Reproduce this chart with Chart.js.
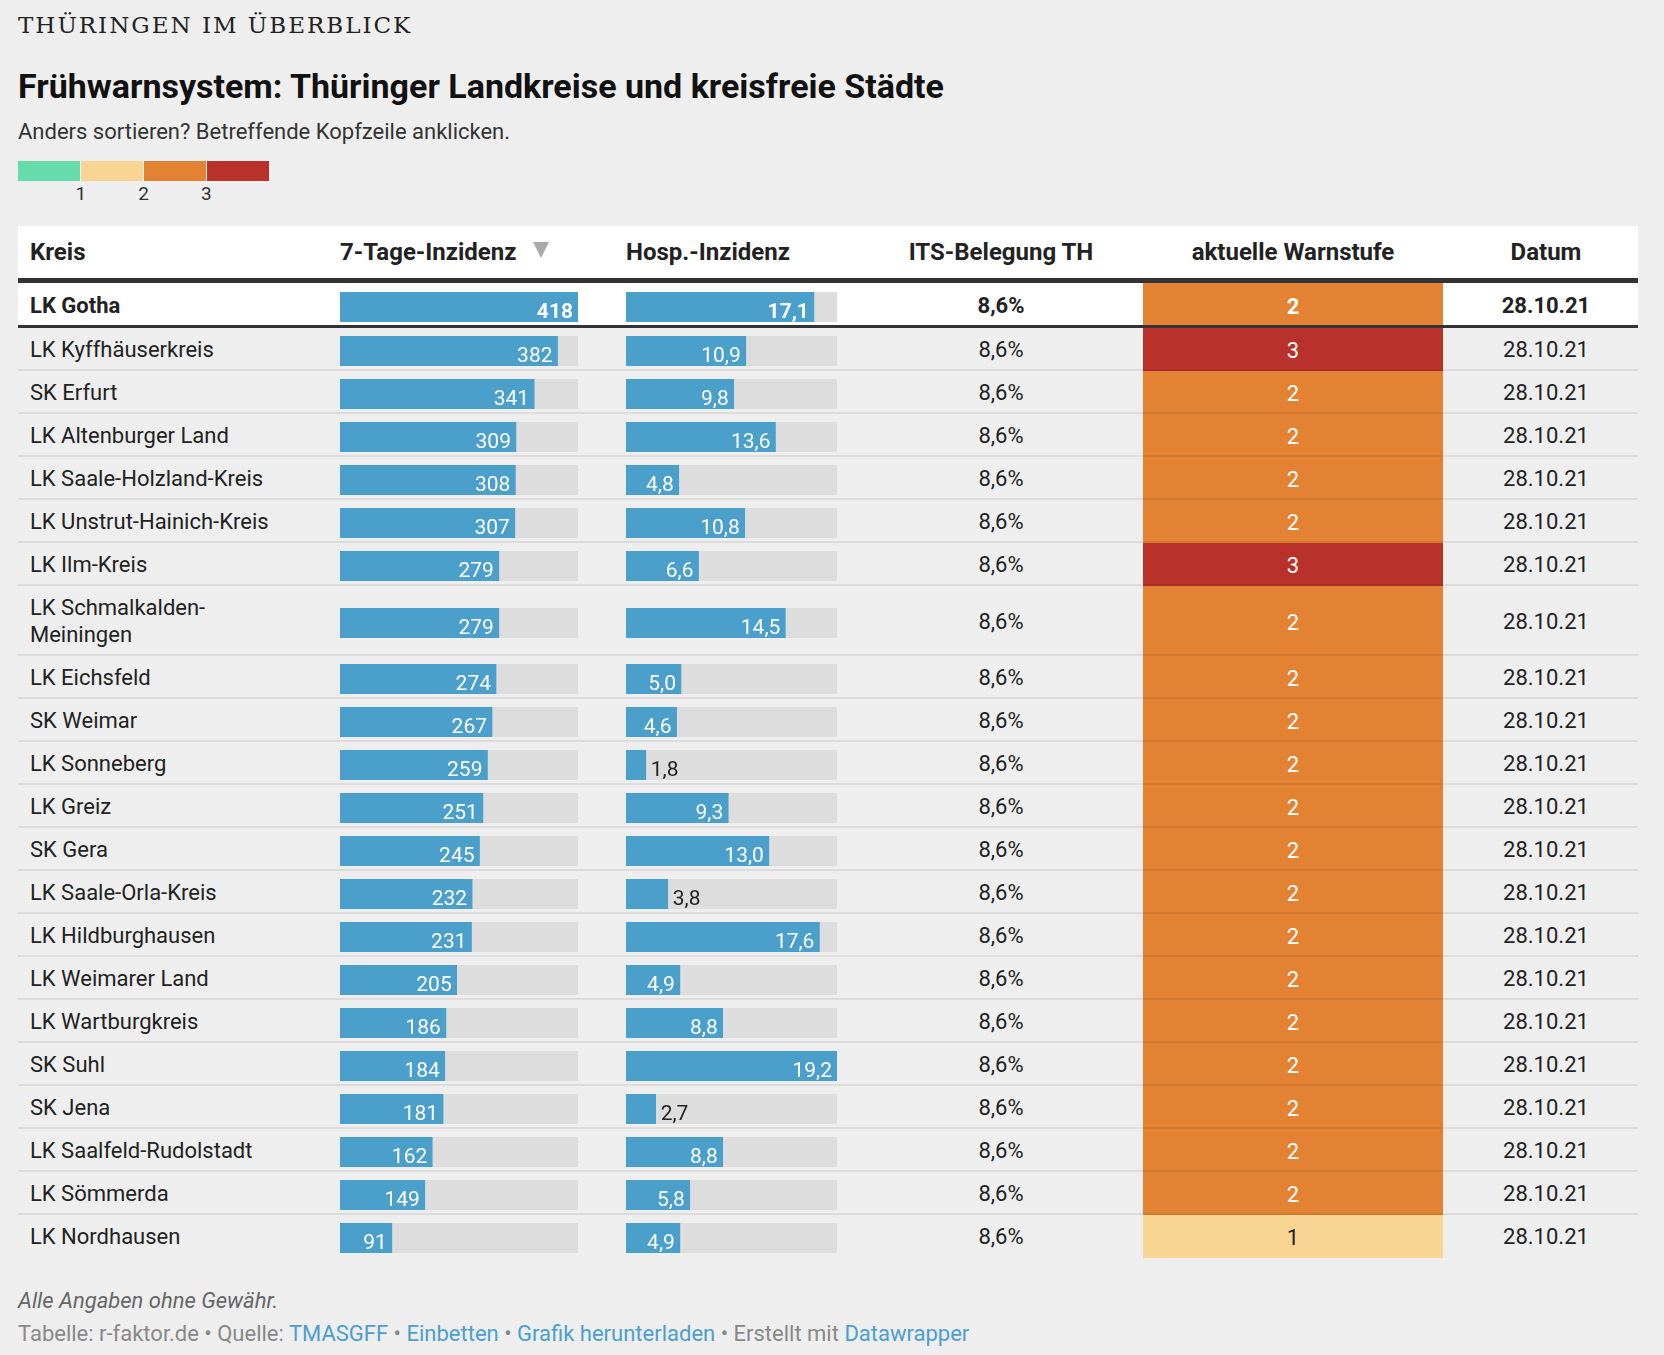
<!DOCTYPE html>
<html lang="de">
<head>
<meta charset="utf-8">
<title>Frühwarnsystem: Thüringer Landkreise und kreisfreie Städte</title>
<script src="https://cdn.jsdelivr.net/npm/chart.js@4.4.0/dist/chart.umd.min.js"></script>
<style>
  html, body { margin: 0; padding: 0; }
  body {
    width: 1664px; height: 1355px; overflow: hidden; position: relative;
    background: #eeeeee; font-family: Roboto, sans-serif; color: #222;
  }
  .abs { position: absolute; line-height: 1; white-space: nowrap; }
  #kicker { left: 18px; top: 14px; font-family: "DejaVu Serif", serif; font-size: 23px; letter-spacing: 2px; color: #222; }
  #title { left: 18px; top: 69px; font-size: 34px; font-weight: 700; color: #111; }
  #subtitle { left: 18px; top: 121px; font-size: 22px; color: #333; }
  #legend { position: absolute; left: 18px; top: 161px; width: 251px; height: 20px; display: flex; }
  #legend div { flex: 1; height: 20px; }
  #legend div + div { border-left: 1px solid #f4f4f4; }
  .leg-label { position: absolute; top: 184px; font-size: 19px; line-height: 1; color: #333; transform: translateX(-50%); }

  #table { position: absolute; left: 18px; top: 226px; width: 1620px; }
  .head { position: relative; height: 52px; background: #fff; border-bottom: 5px solid #333; font-weight: 700; font-size: 24px; }
  .head span { position: absolute; top: 0; line-height: 52px; white-space: nowrap; color: #222; }
  .sort { position: absolute; left: 515px; top: 16px; width: 0; height: 0;
          border-left: 8.5px solid transparent; border-right: 8.5px solid transparent; border-top: 16px solid #aaa; }

  .row { position: relative; display: flex; padding-bottom: 2px; font-size: 22px; }
  .row::after { content: ''; position: absolute; left: 0; right: 0; bottom: 0; height: 2px; background: rgba(0,0,0,0.075); }
  .row.first { background: #fff; font-weight: 700; padding-bottom: 3px; min-height: 45px; box-sizing: border-box; }
  .row.first::after { height: 3px; background: #333; }
  .row.last::after { display: none; }
  .cell { box-sizing: border-box; padding: 8px 0 6px 0; line-height: 27px; align-self: center; }
  .c-name { width: 322px; padding-left: 12px; }
  .c-name span { display: inline-block; max-width: 262px; white-space: normal; }
  .c-bar { padding: 5px 0 0 0; line-height: 0; }
  .c-bar canvas { display: block; }
  .c-inz { width: 238px; margin-right: 48px; }
  .c-hosp { width: 211px; margin-right: 22px; }
  .c-its { width: 284px; text-align: center; }
  .c-warn { width: 300px; align-self: stretch; margin-bottom: -2px; display: flex; align-items: center; justify-content: center; padding: 2px 0 0 0; }
  .row.first .c-warn { margin-bottom: -3px; }
  .c-date { width: 195px; padding-left: 11px; text-align: center; }

  #note { left: 18px; top: 1290px; font-size: 22px; font-style: italic; color: #666; }
  #credits { left: 18px; top: 1323px; font-size: 22px; color: #888; }
  #credits a { color: #4b9fcf; text-decoration: none; }
</style>
</head>
<body>
<div id="kicker" class="abs">THÜRINGEN IM ÜBERBLICK</div>
<div id="title" class="abs">Frühwarnsystem: Thüringer Landkreise und kreisfreie Städte</div>
<div id="subtitle" class="abs">Anders sortieren? Betreffende Kopfzeile anklicken.</div>
<div id="legend"></div>

<div id="table">
  <div class="head">
    <span style="left:12px">Kreis</span>
    <span style="left:322px">7-Tage-Inzidenz</span>
    <div class="sort"></div>
    <span style="left:608px">Hosp.-Inzidenz</span>
    <span style="left:841px; width:284px; text-align:center">ITS-Belegung TH</span>
    <span style="left:1125px; width:300px; text-align:center">aktuelle Warnstufe</span>
    <span style="left:1436px; width:184px; text-align:center">Datum</span>
  </div>
  <div id="rows"></div>
</div>

<div id="note" class="abs">Alle Angaben ohne Gewähr.</div>
<div id="credits" class="abs">Tabelle: r-faktor.de • Quelle: <a>TMASGFF</a> • <a>Einbetten</a> • <a>Grafik herunterladen</a> • Erstellt mit <a>Datawrapper</a></div>

<script>
var kreise = ['LK Gotha', 'LK Kyffhäuserkreis', 'SK Erfurt', 'LK Altenburger Land', 'LK Saale-Holzland-Kreis',
  'LK Unstrut-Hainich-Kreis', 'LK Ilm-Kreis', 'LK Schmalkalden-Meiningen', 'LK Eichsfeld', 'SK Weimar',
  'LK Sonneberg', 'LK Greiz', 'SK Gera', 'LK Saale-Orla-Kreis', 'LK Hildburghausen', 'LK Weimarer Land',
  'LK Wartburgkreis', 'SK Suhl', 'SK Jena', 'LK Saalfeld-Rudolstadt', 'LK Sömmerda', 'LK Nordhausen'];
var inzidenz = [418, 382, 341, 309, 308, 307, 279, 279, 274, 267, 259, 251, 245, 232, 231, 205, 186, 184, 181, 162, 149, 91];
var hospInzidenz = [17.1, 10.9, 9.8, 13.6, 4.8, 10.8, 6.6, 14.5, 5.0, 4.6, 1.8, 9.3, 13.0, 3.8, 17.6, 4.9, 8.8, 19.2, 2.7, 8.8, 5.8, 4.9];
var itsBelegung = [8.6, 8.6, 8.6, 8.6, 8.6, 8.6, 8.6, 8.6, 8.6, 8.6, 8.6, 8.6, 8.6, 8.6, 8.6, 8.6, 8.6, 8.6, 8.6, 8.6, 8.6, 8.6];
var warnstufe = [2, 3, 2, 2, 2, 2, 3, 2, 2, 2, 2, 2, 2, 2, 2, 2, 2, 2, 2, 2, 2, 1];
var datum = ['28.10.21', '28.10.21', '28.10.21', '28.10.21', '28.10.21', '28.10.21', '28.10.21', '28.10.21',
  '28.10.21', '28.10.21', '28.10.21', '28.10.21', '28.10.21', '28.10.21', '28.10.21', '28.10.21', '28.10.21',
  '28.10.21', '28.10.21', '28.10.21', '28.10.21', '28.10.21'];
var legendTicks = ['1', '2', '3'];

var stufenFarben = ['#66dbab', '#f8d593', '#e38233', '#b8312a'];
var BLUE = '#4b9fcb';
var TRACK = '#dddddd';

function deZahl(v, digits) {
  return v.toFixed(digits).replace('.', ',');
}

// legend strip with tick labels on the segment borders
var legend = document.getElementById('legend');
stufenFarben.forEach(function(c) {
  var d = document.createElement('div');
  d.style.background = c;
  legend.appendChild(d);
});
legendTicks.forEach(function(t, i) {
  var s = document.createElement('div');
  s.className = 'leg-label';
  s.textContent = t;
  s.style.left = (18 + 251 / 4 * (i + 1)) + 'px';
  document.body.appendChild(s);
});

// gray background track behind each bar
var trackPlugin = {
  id: 'track',
  beforeDatasetsDraw: function(chart) {
    var a = chart.chartArea;
    chart.ctx.save();
    chart.ctx.fillStyle = TRACK;
    chart.ctx.fillRect(a.left, a.top, a.right - a.left, a.bottom - a.top);
    chart.ctx.restore();
  }
};

// value label inside the bar end, or behind it when the bar is too short
var labelPlugin = {
  id: 'barLabel',
  afterDatasetsDraw: function(chart) {
    var opts = chart.options.plugins.barLabel;
    var bar = chart.getDatasetMeta(0).data[0];
    var ctx = chart.ctx;
    var a = chart.chartArea;
    ctx.save();
    ctx.font = (opts.bold ? '700 ' : '400 ') + '21px Roboto';
    ctx.textBaseline = 'alphabetic';
    var w = ctx.measureText(opts.text).width;
    if (bar.x - a.left >= w + 16) {
      ctx.fillStyle = '#ffffff';
      ctx.textAlign = 'right';
      ctx.fillText(opts.text, bar.x - 5, a.bottom - 4);
    } else {
      ctx.fillStyle = '#222222';
      ctx.textAlign = 'left';
      ctx.fillText(opts.text, bar.x + 5, a.bottom - 4);
    }
    ctx.restore();
  }
};

function makeBar(canvas, value, max, text, bold) {
  return new Chart(canvas, {
    type: 'bar',
    data: {
      labels: [''],
      datasets: [{
        data: [value],
        backgroundColor: BLUE,
        barPercentage: 1,
        categoryPercentage: 1
      }]
    },
    options: {
      indexAxis: 'y',
      responsive: false,
      animation: false,
      events: [],
      layout: { padding: 0 },
      scales: {
        x: { display: false, min: 0, max: max },
        y: { display: false }
      },
      plugins: {
        legend: { display: false },
        tooltip: { enabled: false },
        barLabel: { text: text, bold: bold }
      }
    },
    plugins: [trackPlugin, labelPlugin]
  });
}

var maxInz = Math.max.apply(null, inzidenz);
var maxHosp = Math.max.apply(null, hospInzidenz);
var rows = document.getElementById('rows');

kreise.forEach(function(name, i) {
  var row = document.createElement('div');
  row.className = 'row' + (i === 0 ? ' first' : '') + (i === kreise.length - 1 ? ' last' : '');

  var cName = document.createElement('div');
  cName.className = 'cell c-name';
  var sp = document.createElement('span');
  sp.textContent = name;
  cName.appendChild(sp);
  row.appendChild(cName);

  var cInz = document.createElement('div');
  cInz.className = 'cell c-bar c-inz';
  var cv1 = document.createElement('canvas');
  cv1.width = 238; cv1.height = 30;
  cInz.appendChild(cv1);
  row.appendChild(cInz);

  var cHosp = document.createElement('div');
  cHosp.className = 'cell c-bar c-hosp';
  var cv2 = document.createElement('canvas');
  cv2.width = 211; cv2.height = 30;
  cHosp.appendChild(cv2);
  row.appendChild(cHosp);

  var cIts = document.createElement('div');
  cIts.className = 'cell c-its';
  cIts.textContent = deZahl(itsBelegung[i], 1) + '%';
  row.appendChild(cIts);

  var cWarn = document.createElement('div');
  cWarn.className = 'cell c-warn';
  cWarn.style.background = stufenFarben[warnstufe[i]];
  cWarn.style.color = warnstufe[i] >= 2 ? '#ffffff' : '#222222';
  cWarn.textContent = warnstufe[i];
  row.appendChild(cWarn);

  var cDate = document.createElement('div');
  cDate.className = 'cell c-date';
  cDate.textContent = datum[i];
  row.appendChild(cDate);

  rows.appendChild(row);

  makeBar(cv1, inzidenz[i], maxInz, String(inzidenz[i]), i === 0);
  makeBar(cv2, hospInzidenz[i], maxHosp, deZahl(hospInzidenz[i], 1), i === 0);
});
</script>
</body>
</html>
